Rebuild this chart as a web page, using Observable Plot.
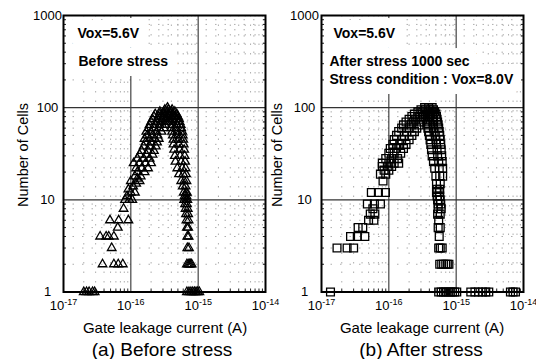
<!DOCTYPE html>
<html><head><meta charset="utf-8">
<script src="https://cdn.jsdelivr.net/npm/d3@7"></script>
<script src="https://cdn.jsdelivr.net/npm/@observablehq/plot@0.6"></script>
<style>
body{margin:0;background:#fff;font-family:"Liberation Sans",Arial,sans-serif;color:#000;}
#wrap{position:relative;width:536px;height:359px;overflow:hidden;background:#fff;}
.panel{position:absolute;top:0;}
.lbl{position:absolute;white-space:nowrap;transform:translate(-50%,-50%);line-height:1;}
.xlabel{font-size:15px;}
.caption{font-size:19px;}
.ylabel{font-size:14.5px;transform:translate(-50%,-50%) rotate(-90deg);}
</style>
</head><body>
<div id="wrap">
  <div class="panel" id="pa" style="left:0"></div>
  <div class="panel" id="pb" style="left:268px"></div>
  <div class="lbl ylabel" style="left:23px;top:155px">Number of Cells</div>
  <div class="lbl ylabel" style="left:277px;top:155px">Number of Cells</div>
  <div class="lbl xlabel" style="left:165px;top:327px">Gate leakage current (A)</div>
  <div class="lbl xlabel" style="left:422px;top:327px">Gate leakage current (A)</div>
  <div class="lbl caption" style="left:162px;top:349px">(a) Before stress</div>
  <div class="lbl caption" style="left:421px;top:349px">(b) After stress</div>
</div>
<script>
// ---- axis ticks ----
const xTickValues = [1e-17, 1e-16, 1e-15, 1e-14];
const xTickLabels = ["10-17", "10-16", "10-15", "10-14"];
const yTickValues = [1, 10, 100, 1000];
const yTickLabels = ["1", "10", "100", "1000"];
const FA = 1e-15; // currents below are in fA

// ---- (a) Before stress: [gate leakage current (fA), number of cells] ----
const beforeStress = [
  [0.020,1],[0.022,1],[0.024,1],[0.027,1],[0.029,1],
  [0.038,2],[0.056,2],[0.065,2],[0.076,2],
  [0.052,3],
  [0.035,4],[0.043,4],[0.047,4],[0.056,4],
  [0.064,5],
  [0.049,6],[0.066,6],[0.092,6],
  [0.078,8],
  [0.082,10],[0.095,10],[0.105,10],[0.088,11],[0.10,12],[0.115,12],[0.092,13],
  [0.108,14],[0.12,15],[0.10,16],[0.135,16],[0.125,17],
  [0.115,18],[0.14,18],
  [0.125,20],[0.16,20],
  [0.12,22],[0.145,22],[0.18,22],
  [0.11,25],[0.135,25],[0.165,25],[0.20,25],
  [0.125,28],[0.155,28],[0.19,28],
  [0.135,31],[0.17,31],[0.21,31],
  [0.145,34],[0.18,34],[0.22,34],
  [0.155,38],[0.19,38],[0.235,38],
  [0.165,42],[0.20,42],[0.245,42],
  [0.16,46],[0.19,46],[0.225,46],[0.26,46],
  [0.175,50],[0.21,50],[0.25,50],
  [0.17,55],[0.20,55],[0.24,55],[0.285,55],
  [0.185,60],[0.22,60],[0.265,60],[0.31,60],
  [0.19,65],[0.23,65],[0.27,65],[0.32,65],
  [0.20,70],[0.24,70],[0.28,70],[0.33,70],[0.37,70],
  [0.21,75],[0.25,75],[0.29,75],[0.33,75],[0.38,75],[0.43,75],
  [0.22,80],[0.26,80],[0.30,80],[0.35,80],[0.40,80],[0.46,80],
  [0.23,85],[0.27,85],[0.31,85],[0.36,85],[0.42,85],[0.48,85],
  [0.27,90],[0.31,90],[0.35,90],[0.40,90],[0.45,90],
  [0.32,95],[0.36,95],[0.41,95],
  [0.35,100],
  [0.44,80],[0.50,80],
  [0.41,75],[0.47,75],[0.52,75],
  [0.40,70],[0.46,70],[0.53,70],
  [0.41,65],[0.48,65],[0.55,65],
  [0.40,60],[0.47,60],[0.56,60],
  [0.41,55],[0.49,55],[0.58,55],
  [0.42,50],[0.50,50],[0.59,50],
  [0.43,45],[0.51,45],[0.60,45],
  [0.43,40],[0.52,40],[0.61,40],
  [0.44,35],[0.53,35],[0.62,35],
  [0.45,30],[0.54,30],[0.63,30],
  [0.46,26],[0.56,26],[0.64,26],
  [0.49,22],[0.58,22],[0.65,22],
  [0.52,19],[0.60,19],[0.66,19],
  [0.56,16],[0.62,16],[0.67,16],
  [0.59,14],[0.65,14],
  [0.61,12],[0.66,12],[0.68,12],
  [0.63,11],[0.67,11],
  [0.62,10],[0.66,10],[0.69,10],
  [0.64,9],[0.68,9],
  [0.65,8],[0.70,8],
  [0.66,7],[0.71,7],
  [0.67,6],[0.72,6],
  [0.68,5],[0.71,5],
  [0.69,4],[0.72,4],
  [0.69,3],[0.73,3],
  [0.68,2],[0.71,2],[0.74,2],[0.77,2],[0.80,2],
  [0.68,1],[0.73,1],[0.78,1],[0.83,1],[0.88,1],[0.93,1],[0.98,1],[1.04,1]
];

// ---- (b) After stress: [gate leakage current (fA), number of cells] ----
const afterStress = [
  [0.0136,1],
  [0.017,3],[0.024,3],[0.030,3],
  [0.027,4],[0.034,4],[0.044,4],
  [0.035,5],[0.041,5],
  [0.050,6],[0.060,6],
  [0.053,7],[0.062,7],[0.058,8],
  [0.048,9],[0.061,9],[0.075,9],
  [0.055,12],[0.070,12],[0.089,12],
  [0.082,16],
  [0.075,19],[0.09,19],
  [0.085,21],[0.10,21],
  [0.08,23],[0.095,23],[0.11,23],
  [0.08,25],[0.10,25],[0.12,25],[0.14,25],
  [0.09,28],[0.11,28],[0.135,28],
  [0.10,32],[0.12,32],[0.15,32],
  [0.105,36],[0.13,36],[0.165,36],
  [0.115,40],[0.145,40],[0.18,40],
  [0.12,45],[0.155,45],[0.20,45],
  [0.13,50],[0.17,50],[0.22,50],
  [0.14,55],[0.185,55],[0.24,55],
  [0.155,60],[0.20,60],[0.26,60],
  [0.165,65],[0.215,65],[0.28,65],
  [0.18,70],[0.23,70],[0.30,70],
  [0.20,75],[0.25,75],[0.32,75],
  [0.22,80],[0.27,80],[0.33,80],[0.40,80],
  [0.24,85],[0.29,85],[0.35,85],[0.42,85],
  [0.27,90],[0.32,90],[0.38,90],[0.44,90],
  [0.30,95],[0.35,95],[0.41,95],[0.46,95],
  [0.34,100],[0.39,100],[0.44,100],
  [0.48,90],
  [0.40,85],[0.45,85],[0.50,85],
  [0.38,80],[0.45,80],[0.51,80],
  [0.38,75],[0.46,75],[0.52,75],
  [0.37,70],[0.45,70],[0.53,70],
  [0.38,65],[0.46,65],[0.54,65],
  [0.38,60],[0.46,60],[0.55,60],
  [0.39,55],[0.47,55],[0.56,55],
  [0.40,50],[0.49,50],[0.57,50],
  [0.41,45],[0.50,45],[0.58,45],
  [0.42,40],[0.51,40],[0.59,40],
  [0.43,35],[0.52,35],[0.60,35],
  [0.44,30],[0.53,30],[0.61,30],
  [0.46,26],[0.55,26],[0.62,26],
  [0.48,22],[0.56,22],[0.63,22],
  [0.50,18],[0.57,18],[0.63,18],
  [0.51,15],[0.58,15],
  [0.52,13],[0.57,13],
  [0.51,12],[0.56,12],
  [0.52,11],[0.57,11],
  [0.53,10],[0.58,10],
  [0.54,9],[0.59,9],
  [0.54,8],[0.60,8],
  [0.53,7],[0.58,7],
  [0.55,6],
  [0.54,5],[0.58,5],
  [0.56,4],
  [0.55,3],[0.58,3],[0.62,3],
  [0.57,2],[0.61,2],[0.65,2],[0.70,2],[0.74,2],[0.78,2],
  [0.55,1],[0.60,1],[0.65,1],[0.70,1],[0.76,1],[0.82,1],[0.88,1],[0.95,1],[1.02,1],
  [1.65,1],[1.9,1],[2.15,1],[2.45,1],[2.75,1],[3.05,1],
  [6.4,1],[7.0,1],[7.6,1]
];

const minorX = d3.range(-17, -14).flatMap(e => d3.range(2, 10).map(m => m * 10 ** e));
const minorY = d3.range(0, 3).flatMap(e => d3.range(2, 10).map(m => m * 10 ** e));
const innerX = xTickValues.slice(1, -1);
const innerY = yTickValues.slice(1, -1);

function panel({data, symbol, r, marginLeft, marginRight, yLabelPad, notes}) {
  const noteOpts = n => ({frameAnchor: "top-left", dx: n.dx, dy: n.dy, textAnchor: "start", lineAnchor: "middle", fontWeight: "bold", fontSize: 14});
  const svg = Plot.plot({
    width: 268, height: 320,
    marginTop: 15, marginBottom: 28.5, marginLeft, marginRight,
    style: {fontFamily: "'Liberation Sans', Arial, sans-serif", fontSize: "13px", background: "transparent", overflow: "visible", color: "#000"},
    x: {type: "log", domain: [1e-17, 1e-14]},
    y: {type: "log", domain: [1, 1000]},
    marks: [
      Plot.gridX(minorX, {stroke: "#999", strokeOpacity: 1, strokeWidth: 0.8, strokeDasharray: "1.5,8"}),
      Plot.gridY(minorY, {stroke: "#999", strokeOpacity: 1, strokeWidth: 0.8, strokeDasharray: "1.5,8"}),
      Plot.gridX(innerX, {stroke: "#333", strokeOpacity: 1, strokeWidth: 1.1}),
      Plot.gridY(innerY, {stroke: "#333", strokeOpacity: 1, strokeWidth: 1.1}),
      ...notes.map(n => Plot.text([n.text], {...noteOpts(n), fill: "white", stroke: "white", strokeWidth: 20, strokeLinejoin: "round"})),
      ...notes.map(n => Plot.text([n.text], {...noteOpts(n), fill: "black"})),
      Plot.axisY(minorY, {anchor: "left", tickSize: -3, tickFormat: () => "", stroke: "#222"}),
      Plot.axisY(minorY, {anchor: "right", tickSize: -3, tickFormat: () => "", stroke: "#222"}),
      Plot.axisX(minorX, {anchor: "bottom", tickSize: -3, tickFormat: () => "", stroke: "#222"}),
      Plot.axisY(yTickValues, {anchor: "left", tickSize: 0, tickPadding: yLabelPad, textAnchor: "middle",
        tickFormat: d => yTickLabels[yTickValues.indexOf(d)], fontSize: 13, label: null}),
      Plot.axisX(xTickValues, {anchor: "bottom", tickSize: 0, tickPadding: 9,
        tickFormat: d => xTickLabels[xTickValues.indexOf(d)], fontSize: 13, label: null}),
      Plot.dot(data, {x: d => d[0] * FA, y: d => d[1], symbol, r, stroke: "black", strokeWidth: 1.3, fill: "none"}),
      Plot.frame({stroke: "black", strokeWidth: 2})
    ]
  });
  svg.querySelectorAll('[aria-label="x-axis tick label"] text').forEach(t => {
    const m = t.textContent.match(/^10(-\d+)$/);
    if (!m) return;
    t.textContent = "";
    const ns = "http://www.w3.org/2000/svg";
    const a = document.createElementNS(ns, "tspan"); a.textContent = "10";
    const b = document.createElementNS(ns, "tspan"); b.textContent = m[1];
    b.setAttribute("dy", "-5"); b.setAttribute("font-size", "9");
    t.append(a, b);
  });
  return svg;
}

document.getElementById("pa").append(panel({
  data: beforeStress, symbol: "triangle", r: 3.2, marginLeft: 63, marginRight: 3, yLabelPad: 16,
  notes: [{text: "Vox=5.6V", dx: 14, dy: 18}, {text: "Before stress", dx: 15, dy: 46}]
}));
document.getElementById("pb").append(panel({
  data: afterStress, symbol: "square", r: 4.4, marginLeft: 53, marginRight: 13, yLabelPad: 17,
  notes: [{text: "Vox=5.6V", dx: 12, dy: 18}, {text: "After stress 1000 sec", dx: 8, dy: 46}, {text: "Stress condition : Vox=8.0V", dx: 8, dy: 64}]
}));
</script>
</body></html>
